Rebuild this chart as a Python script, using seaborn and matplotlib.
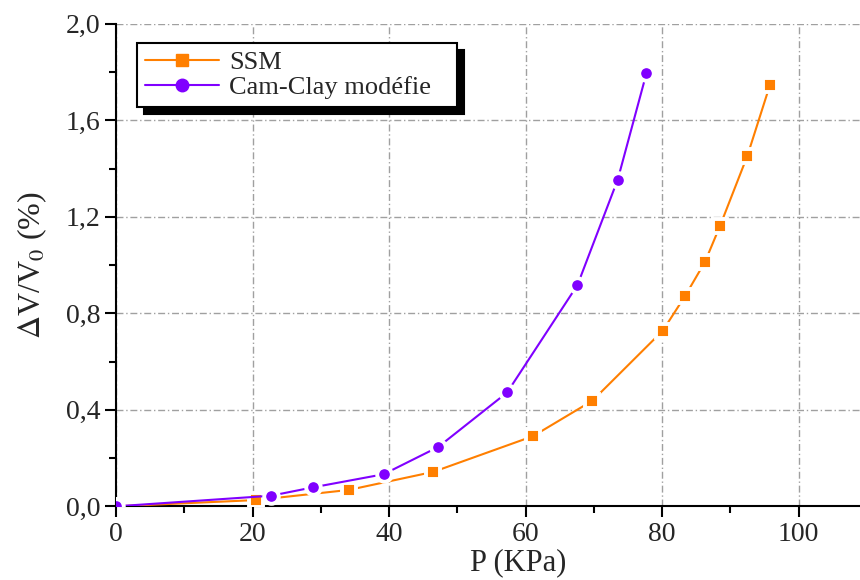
import numpy as np
import pandas as pd
import seaborn as sns
import matplotlib.pyplot as plt
from matplotlib.ticker import MultipleLocator, FuncFormatter

# data
p_ssm = [0, 20.5, 34.1, 46.5, 61.1, 69.8, 80.1, 83.4, 86.3, 88.5, 92.5, 95.8]
dv_ssm = [0, 0.026, 0.068, 0.143, 0.291, 0.438, 0.728, 0.873, 1.014, 1.163, 1.453, 1.746]

p_cam = [0, 22.7, 28.9, 39.2, 47.2, 57.3, 67.6, 73.5, 77.7]
dv_cam = [0, 0.044, 0.079, 0.133, 0.246, 0.472, 0.917, 1.354, 1.794]

labels = ['SSM', 'Cam-Clay modéfie']
x_ticks = [0, 20, 40, 60, 80, 100]
y_ticks = [0.0, 0.4, 0.8, 1.2, 1.6, 2.0]

sns.set_style('ticks')
plt.rcParams['font.family'] = ['Liberation Serif', 'DejaVu Serif']
plt.rcParams['mathtext.fontset'] = 'stix'

fig, ax = plt.subplots(figsize=(8.6, 5.8), dpi=100)
fig.subplots_adjust(left=0.135, right=1.0, bottom=0.127, top=0.959)

orange = '#ff7f00'
purple = '#8000ff'

# SSM curve
sns.lineplot(x=p_ssm, y=dv_ssm, ax=ax, color=orange, marker='s', markersize=10,
             markeredgecolor='white', markeredgewidth=2.8, linewidth=1.5,
             sort=False, label=labels[0], zorder=3)

# Cam-Clay curve
sns.lineplot(x=p_cam, y=dv_cam, ax=ax, color=purple, marker='o', markersize=10.5,
             markeredgecolor='white', markeredgewidth=2.8, linewidth=1.5,
             sort=False, label=labels[1], zorder=3)

ax.set_xlim(0, 109)
ax.set_ylim(0, 2.0)
ax.set_xticks(x_ticks)
ax.set_yticks(y_ticks)
ax.xaxis.set_minor_locator(MultipleLocator(10))
ax.yaxis.set_minor_locator(MultipleLocator(0.2))
ax.yaxis.set_major_formatter(FuncFormatter(lambda v, pos: f'{v:.1f}'.replace('.', ',')))

ax.tick_params(which='major', direction='out', length=8, width=1.5, labelsize=20, color='black')
ax.tick_params(which='minor', direction='out', length=5, width=1.5, color='black')

for side in ['left', 'bottom']:
    ax.spines[side].set_linewidth(1.5)
    ax.spines[side].set_color('black')
sns.despine(ax=ax)

# grid dash-dot
ax.grid(True, which='major', color='#a0a0a0', linewidth=1, dashes=(5, 2, 1, 2))
ax.set_axisbelow(True)

ax.set_xlabel('P (KPa)', fontsize=22, labelpad=1)
ax.xaxis.label.set_x(0.54)
ax.set_ylabel(r'$\Delta$V/V$_0$ (%)', fontsize=23, labelpad=12)

# legend with a black shadow like Origin
leg = ax.legend(loc='upper left', bbox_to_anchor=(0.028, 0.960, 0.43, 0.0), mode='expand',
                borderaxespad=0, fontsize=19, frameon=True, fancybox=False,
                edgecolor='black', framealpha=1, handlelength=2.8, handletextpad=0.4,
                borderpad=0.3, labelspacing=0.05,
                shadow={'ox': 5, 'oy': -5, 'color': 'black', 'alpha': 1})
leg.get_frame().set_linewidth(1.5)
for h in leg.legend_handles:
    h.set_markeredgecolor(h.get_color())
    h.set_markeredgewidth(1)
    h.set_markersize(9)

plt.savefig('out.png', dpi=100)
